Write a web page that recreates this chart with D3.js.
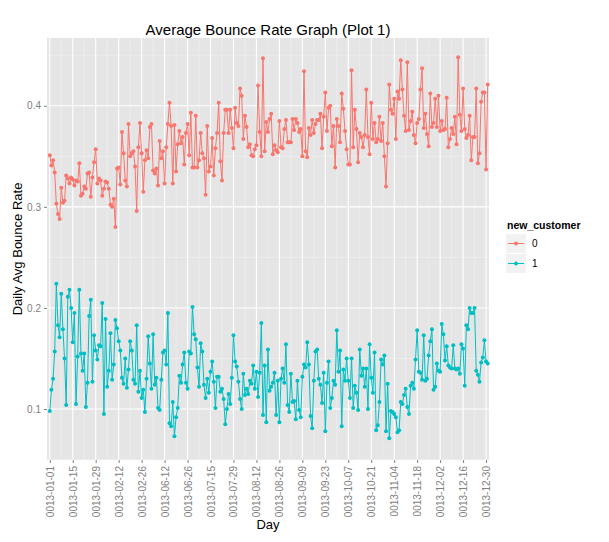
<!DOCTYPE html>
<html>
<head>
<meta charset="utf-8">
<script src="https://cdn.jsdelivr.net/npm/d3@7"></script>
<style>
body{margin:0;background:#fff;}
text{font-family:"Liberation Sans",Arial,sans-serif;}
</style>
</head>
<body>
<svg id="chart" width="609" height="542"></svg>
<script>
// daily avg bounce rate, returning customers (new_customer = 0)
var rate0 = [
 .351,.341,.346,.334,.303,.293,.288,.319,.304,.306,.331,.328,.323,.329,.327,.321,.326,.325,.343,.311,
 .313,.320,.318,.333,.334,.310,.329,.344,.357,.323,.328,.326,.311,.318,.325,.324,.318,.302,.300,.308,
 .280,.338,.339,.322,.374,.353,.326,.320,.382,.350,.353,.355,.340,.296,.359,.383,.353,.315,.346,.356,
 .348,.379,.382,.336,.333,.338,.321,.365,.348,.355,.323,.359,.382,.403,.380,.323,.381,.335,.362,.375,
 .363,.369,.342,.373,.382,.351,.393,.339,.339,.390,.339,.346,
 .373,.353,.348,.312,.380,.335,.340,.368,.331,.358,.373,.403,.345,.326,.373,.396,.396,.373,.396,.378,
 .358,.398,.383,.380,.417,.410,.367,.390,.379,.359,.362,.351,.350,.357,.361,.420,.374,.350,.447,.355,
 .384,.374,.387,.392,.352,.361,.356,.354,.385,.359,.358,.377,.386,.364,.364,.364,.387,.376,.387,.383,
 .374,.377,.350,.434,.355,.349,.378,.371,.386,.373,.382,.386,.386,.392,.358,.389,.413,.375,.398,.400,
 .360,.380,.339,.387,.380,.364,.412,.397,.375,.357,.342,
 .342,.435,.359,.396,.377,.344,.373,.369,.359,.371,.416,.369,.352,.403,.367,.383,.364,.367,.389,.365,
 .383,.350,.320,.363,.421,.396,.392,.407,.367,.414,.407,.445,.416,.390,.375,.443,.376,.385,.394,.371,
 .363,.383,.387,.416,.437,.378,.392,.372,.360,.412,.379,.383,.407,.379,.410,.375,.385,.376,.377,.408,
 .359,.367,.378,.372,.389,.362,.448,.391,.375,.417,.377,.368,.371,.390,.346,.369,.369,.417,.343,.353,
 .404,.413,.413,.337,.421
];
// new customers (new_customer = 1)
var rate1 = [
 .098,.119,.130,.157,.224,.183,.171,.214,.179,.150,.104,.211,.218,.200,.166,.195,.105,.152,.218,.155,
 .138,.155,.102,.126,.192,.208,.127,.173,.158,.149,.163,.162,.205,.095,.189,.122,.138,.175,.129,.144,
 .188,.180,.167,.158,.131,.125,.150,.121,.139,.167,.158,.129,.125,.183,.117,.138,.111,.119,.097,.130,
 .172,.145,.120,.174,.124,.131,.101,.099,.129,.156,.158,.144,.195,.086,.083,.107,.073,.092,.101,.133,
 .126,.144,.156,.126,.120,.157,.155,.201,.174,.169,.141,.122,
 .165,.157,.124,.111,.130,.116,.137,.147,.127,.101,.132,.132,.117,.120,.110,.085,.100,.115,.105,.131,
 .173,.147,.142,.127,.110,.100,.135,.114,.120,.115,.128,.125,.143,.120,.137,.112,.136,.185,.094,.143,
 .087,.159,.118,.122,.126,.136,.094,.128,.087,.130,.140,.126,.164,.104,.097,.135,.107,.108,.090,.128,
 .099,.092,.132,.144,.141,.166,.144,.093,.081,.128,.157,.159,.130,.124,.106,.136,.078,.126,.147,.101,
 .111,.128,.124,.178,.137,.158,.083,.139,.128,.150,.128,
 .111,.150,.101,.123,.116,.099,.159,.133,.140,.122,.140,.100,.164,.131,.116,.156,.079,.084,.107,.149,
 .144,.153,.078,.125,.071,.098,.097,.095,.092,.077,.079,.107,.105,.114,.120,.102,.095,.123,.126,.120,
 .149,.178,.137,.136,.129,.173,.128,.130,.153,.167,.179,.119,.122,.145,.138,.137,.184,.174,.148,.162,
 .143,.141,.140,.163,.140,.139,.140,.135,.164,.160,.123,.183,.179,.200,.195,.195,.200,.138,.134,.127,
 .146,.151,.168,.147,.145
];
var tickLabels = ["0013-01-01","0013-01-15","0013-01-29","0013-02-12","0013-02-26","0013-06-12",
 "0013-06-26","0013-07-15","0013-07-29","0013-08-12","0013-08-26","0013-09-09","0013-09-23",
 "0013-10-07","0013-10-21","0013-11-04","0013-11-18","0013-12-02","0013-12-16","0013-12-30"];
var tickStep = 14;
var yTicks = [0.1, 0.2, 0.3, 0.4];
var series = [
  {key:"0", values:rate0, color:"#F8766D"},
  {key:"1", values:rate1, color:"#00BFC4"}
];

function main(){
  var svg = d3.select("#chart");
  var pL = 47, pR = 489, pT = 38, pB = 460;

  var x = d3.scaleLinear().domain([-1.7, 267.8]).range([pL, pR]);
  var y = d3.scaleLinear().domain([0.0496, 0.467]).range([pB, pT]);

  svg.append("rect").attr("x", pL).attr("y", pT)
     .attr("width", pR - pL).attr("height", pB - pT).attr("fill", "#e5e5e5");

  var majorX = tickLabels.map(function(d, i){ return i * tickStep; });
  var minorX = majorX.slice(0, -1).map(function(d){ return d + tickStep / 2; });
  var minorY = [0.05, 0.15, 0.25, 0.35, 0.45];

  var grid = svg.append("g");
  grid.selectAll(".mx").data(minorX).enter().append("line")
    .attr("x1", x).attr("x2", x).attr("y1", pT).attr("y2", pB)
    .attr("stroke", "#f2f2f2").attr("stroke-width", 0.5);
  grid.selectAll(".my").data(minorY).enter().append("line")
    .attr("x1", pL).attr("x2", pR).attr("y1", y).attr("y2", y)
    .attr("stroke", "#f2f2f2").attr("stroke-width", 0.5);
  grid.selectAll(".Mx").data(majorX).enter().append("line")
    .attr("x1", x).attr("x2", x).attr("y1", pT).attr("y2", pB)
    .attr("stroke", "#fff").attr("stroke-width", 1.1);
  grid.selectAll(".My").data(yTicks).enter().append("line")
    .attr("x1", pL).attr("x2", pR).attr("y1", y).attr("y2", y)
    .attr("stroke", "#fff").attr("stroke-width", 1.1);

  // axes
  var yAxis = svg.append("g").attr("transform", "translate(" + pL + ",0)")
    .call(d3.axisLeft(y).tickValues(yTicks).tickSize(3).tickFormat(d3.format(".1f")));
  yAxis.select(".domain").remove();
  yAxis.selectAll("line").attr("stroke", "#7f7f7f");
  yAxis.selectAll("text").attr("fill", "#7f7f7f").style("font-size", "10px");

  var xAxis = svg.append("g").attr("transform", "translate(0," + pB + ")")
    .call(d3.axisBottom(x).tickValues(majorX).tickSize(3)
      .tickFormat(function(d, i){ return tickLabels[i]; }));
  xAxis.select(".domain").remove();
  xAxis.selectAll("line").attr("stroke", "#7f7f7f");
  xAxis.selectAll("text").attr("fill", "#7f7f7f").style("font-size", "10px")
    .attr("transform", "rotate(-90)").attr("text-anchor", "end")
    .attr("x", -6).attr("y", 0).attr("dy", "0.35em");

  // lines and points
  var line = d3.line().x(function(d, i){ return x(i); }).y(function(d){ return y(d); });
  series.forEach(function(s){
    svg.append("path").datum(s.values).attr("d", line)
       .attr("fill", "none").attr("stroke", s.color).attr("stroke-width", 1);
    svg.append("g").selectAll("circle").data(s.values).enter().append("circle")
       .attr("cx", function(d, i){ return x(i); }).attr("cy", y)
       .attr("r", 2).attr("fill", s.color);
  });

  // titles
  svg.append("text").attr("x", (pL + pR) / 2).attr("y", 35).attr("text-anchor", "middle")
     .style("font-size", "15px").text("Average Bounce Rate Graph (Plot 1)");
  svg.append("text").attr("x", (pL + pR) / 2).attr("y", 529).attr("text-anchor", "middle")
     .style("font-size", "13px").text("Day");
  svg.append("text").attr("transform", "translate(22," + ((pT + pB) / 2) + ") rotate(-90)")
     .attr("text-anchor", "middle").style("font-size", "13px").text("Daily Avg Bounce Rate");

  // legend
  var lg = svg.append("g").attr("transform", "translate(506,222)");
  lg.append("text").attr("x", 1).attr("y", 7).style("font-size", "10.5px").style("font-weight", "bold")
    .text("new_customer");
  series.forEach(function(s, i){
    var g = lg.append("g").attr("transform", "translate(0," + (12 + i * 20) + ")");
    g.append("rect").attr("width", 20).attr("height", 19).attr("fill", "#f2f2f2");
    g.append("line").attr("x1", 2).attr("x2", 18).attr("y1", 9.5).attr("y2", 9.5)
     .attr("stroke", s.color).attr("stroke-width", 1);
    g.append("circle").attr("cx", 10).attr("cy", 9.5).attr("r", 2).attr("fill", s.color);
    g.append("text").attr("x", 26).attr("y", 13).style("font-size", "10px").text(s.key);
  });
}

main();
</script>
</body>
</html>
